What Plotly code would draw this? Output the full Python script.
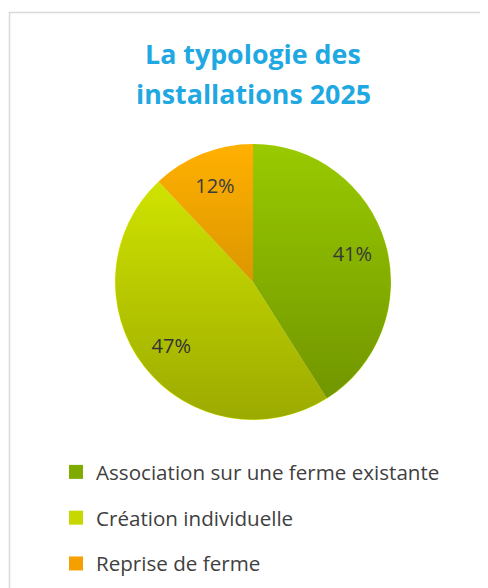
import base64
import struct
import zlib

import numpy as np
import plotly.graph_objects as go

categories = ["Association sur une ferme existante", "Création individuelle", "Reprise de ferme"]
values = [41, 47, 12]
colors = ["#99CA00", "#D8EC00", "#FFB000"]
legend_colors = ["#7FAA00", "#C6D800", "#F4A000"]
title_lines = ["La typologie des", "installations 2025"]

W, H = 488, 588
PX0, PY0, PD = 107, 136, 276  # pie box in figure pixels


def shade_png(n, amax):
    """Circular, top-to-bottom darkening overlay (black with rising alpha)."""
    yy, xx = np.mgrid[0:n, 0:n] + 0.5
    r = n / 2.0
    d = np.sqrt((xx - r) ** 2 + (yy - r) ** 2)
    mask = np.clip(r - d, 0, 1)
    alpha = (yy / n) * amax * mask
    img = np.zeros((n, n, 4), dtype=np.uint8)
    img[..., 3] = (alpha * 255).astype(np.uint8)
    raw = b"".join(b"\x00" + img[i].tobytes() for i in range(n))

    def chunk(tag, data):
        c = struct.pack(">I", len(data)) + tag + data
        return c + struct.pack(">I", zlib.crc32(tag + data) & 0xFFFFFFFF)

    png = b"\x89PNG\r\n\x1a\n" + chunk(b"IHDR", struct.pack(">IIBBBBB", n, n, 8, 6, 0, 0, 0))
    png += chunk(b"IDAT", zlib.compress(raw, 9)) + chunk(b"IEND", b"")
    return "data:image/png;base64," + base64.b64encode(png).decode()


fig = go.Figure()
pie_dom = dict(x=[PX0 / W, (PX0 + PD) / W], y=[1 - (PY0 + PD) / H, 1 - PY0 / H])

fig.add_trace(go.Pie(
    labels=categories, values=values, sort=False, direction="clockwise", rotation=0,
    marker=dict(colors=colors, line=dict(color="white", width=0)),
    textinfo="none", domain=pie_dom, showlegend=False, hoverinfo="label+percent",
))
fig.add_trace(go.Pie(
    labels=categories, values=values, sort=False, direction="clockwise", rotation=0,
    hole=0.5,
    marker=dict(colors=["rgba(0,0,0,0)"] * len(values), line=dict(width=0)),
    textinfo="percent", texttemplate="%{percent:.0%}",
    textposition="inside", insidetextorientation="horizontal",
    textfont=dict(family="Open Sans", size=20, color="#404040"),
    domain=pie_dom, showlegend=False, hoverinfo="skip",
))

for i, (cat, col) in enumerate(zip(categories, legend_colors)):
    fig.add_trace(go.Scatter(
        x=[None], y=[None], mode="markers", name=cat,
        marker=dict(symbol="square", size=14, color=col),
        legendgroup=f"g{i}", showlegend=True,
    ))

annotations = []
for txt, yc in zip(title_lines, [45.5, 85]):
    annotations.append(dict(
        text=f"<b>{txt}</b>", xref="paper", yref="paper", x=245 / W, y=1 - yc / H,
        xanchor="center", yanchor="middle", showarrow=False,
        font=dict(family="Open Sans", size=26.8, color="#1FA8E1"),
    ))

fig.update_layout(
    width=W, height=H,
    margin=dict(l=0, r=0, t=0, b=0),
    paper_bgcolor="white", plot_bgcolor="white",
    annotations=annotations,
    xaxis=dict(visible=False), yaxis=dict(visible=False),
    legend=dict(
        x=48 / W, xanchor="left", y=1 - 444 / H, yanchor="top",
        font=dict(family="Open Sans", size=20.6, color="#404040"),
        tracegroupgap=16, bgcolor="rgba(0,0,0,0)",
    ),
    images=[dict(
        source=shade_png(PD, 0.28), xref="paper", yref="paper",
        x=PX0 / W, y=1 - PY0 / H, sizex=PD / W, sizey=PD / H,
        xanchor="left", yanchor="top", sizing="stretch", layer="above",
    )],
    shapes=[dict(
        type="rect", xref="paper", yref="paper",
        x0=1.5 / W, x1=1.05, y0=-0.05, y1=1 - 4.5 / H,
        line=dict(color="#D9D9D9", width=1.5), layer="below",
    )],
)

fig.write_html("out.html")
